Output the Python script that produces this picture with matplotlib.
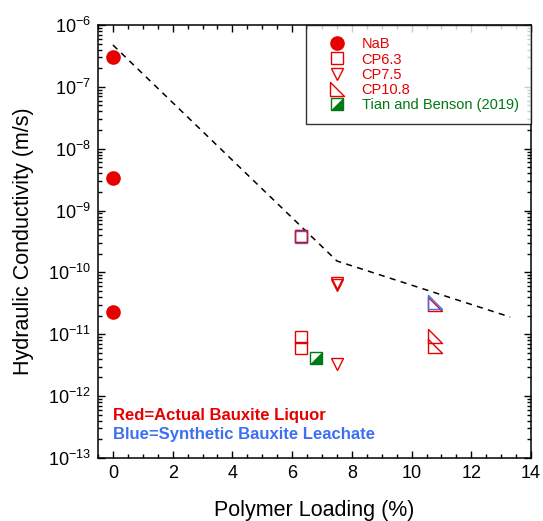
import matplotlib
matplotlib.use("Agg")
import matplotlib.pyplot as plt
from matplotlib.path import Path
from matplotlib.ticker import LogLocator, MultipleLocator, NullFormatter

plt.rcParams['font.family'] = ['Liberation Sans', 'DejaVu Sans']
plt.rcParams['mathtext.fontset'] = 'custom'
plt.rcParams['mathtext.rm'] = 'Liberation Sans'
plt.rcParams['mathtext.it'] = 'Liberation Sans:italic'
plt.rcParams['mathtext.bf'] = 'Liberation Sans:bold'

RED = '#e60000'
BLUE = '#3d6ff2'
GREEN = '#007a14'

# NaB (actual bauxite liquor)
nab_x = [0, 0, 0]
nab_k = [3.0e-7, 3.4e-9, 2.3e-11]

# CP6.3
cp63_red_x = [6.3, 6.3, 6.3]
cp63_red_k = [3.9e-10, 8.9e-12, 5.9e-12]
cp63_blue_x = [6.3]
cp63_blue_k = [3.7e-10]

# CP7.5
cp75_red_x = [7.5, 7.5, 7.5]
cp75_red_k = [6.8e-11, 6.3e-11, 3.3e-12]

# CP10.8
cp108_red_x = [10.8, 10.8, 10.8]
cp108_red_k = [3.1e-11, 9.3e-12, 6.4e-12]
cp108_blue_x = [10.8]
cp108_blue_k = [3.3e-11]

# Tian and Benson (2019)
tb_x = [6.8]
tb_k = [4.2e-12]

# dashed trend line
trend_x = [0, 7.5, 13.3]
trend_k = [4.75e-7, 1.53e-10, 1.9e-11]

# custom markers
right_tri = Path([(-1, 1), (-1, -1), (1, -1), (-1, 1)],
                 [Path.MOVETO, Path.LINETO, Path.LINETO, Path.CLOSEPOLY])
lower_right = Path([(1, 1), (1, -1), (-1, -1), (1, 1)],
                   [Path.MOVETO, Path.LINETO, Path.LINETO, Path.CLOSEPOLY])

fig = plt.figure(figsize=(5.43, 5.21), dpi=100)
ax = fig.add_axes([0.1805, 0.121, 0.7975, 0.831])

ax.plot(trend_x, trend_k, color='black', ls=(0, (4, 3.5)), lw=1.1, zorder=1)

mew = 1.0
h_nab, = ax.plot(nab_x, nab_k, 'o', ms=9.5, color=RED, mec=RED, ls='none')
h_63, = ax.plot(cp63_red_x, cp63_red_k, 's', ms=9, mfc='none', mec=RED, mew=mew, ls='none')
ax.plot(cp63_blue_x, cp63_blue_k, 's', ms=9, mfc='none', mec=BLUE, mew=mew, ls='none')
ax.plot(cp63_red_x[:1], cp63_red_k[:1], 's', ms=9, mfc='none', mec=RED, mew=mew, ls='none', alpha=0.7)
h_75, = ax.plot(cp75_red_x, cp75_red_k, 'v', ms=9, mfc='none', mec=RED, mew=mew, ls='none')
h_108, = ax.plot(cp108_red_x, cp108_red_k, marker=right_tri, ms=9.4, mfc='none', mec=RED, mew=mew, ls='none')
ax.plot(cp108_blue_x, cp108_blue_k, marker=right_tri, ms=9.4, mfc='none', mec=BLUE, mew=mew, ls='none')
h_tb1, = ax.plot(tb_x, tb_k, 's', ms=9, mfc='white', mec=GREEN, mew=mew, ls='none')
h_tb2, = ax.plot(tb_x, tb_k, marker=lower_right, ms=9, mfc=GREEN, mec=GREEN, mew=0.5, ls='none')

ax.set_yscale('log')
ax.set_xlim(-0.5, 14)
ax.set_ylim(1e-13, 1e-6)
ax.xaxis.set_major_locator(MultipleLocator(2))
ax.xaxis.set_minor_locator(MultipleLocator(0.5))
ax.yaxis.set_major_locator(LogLocator(base=10, numticks=20))
ax.yaxis.set_minor_locator(LogLocator(base=10, subs=range(2, 10), numticks=20))
ax.yaxis.set_minor_formatter(NullFormatter())

ax.tick_params(which='both', direction='in', top=True, right=True, width=1)
ax.tick_params(which='major', length=5, labelsize=13, pad=5)
ax.tick_params(which='minor', length=3)
for s in ax.spines.values():
    s.set_linewidth(1.1)

ax.set_xlabel("Polymer Loading (%)", fontsize=15.5, labelpad=13)
ax.set_ylabel("Hydraulic Conductivity (m/s)", fontsize=15.5, labelpad=10)

leg = ax.legend([h_nab, h_63, h_75, h_108, (h_tb1, h_tb2)],
                ["NaB", "CP6.3", "CP7.5", "CP10.8", "Tian and Benson (2019)"],
                loc='upper right', bbox_to_anchor=(1, 1), borderaxespad=0,
                fontsize=10.5, frameon=True, fancybox=False, edgecolor='black',
                borderpad=0.85, handlelength=2.45, handletextpad=0.49,
                labelspacing=0.08)
leg.get_frame().set_linewidth(1.0)
for txt, c in zip(leg.get_texts(), [RED, RED, RED, RED, GREEN]):
    txt.set_color(c)

ax.text(0.035, 0.099, "Red=Actual Bauxite Liquor", transform=ax.transAxes,
        color=RED, fontsize=12, fontweight='bold', va='center')
ax.text(0.035, 0.055, "Blue=Synthetic Bauxite Leachate", transform=ax.transAxes,
        color=BLUE, fontsize=12, fontweight='bold', va='center')

fig.savefig("out.png", dpi=100)
